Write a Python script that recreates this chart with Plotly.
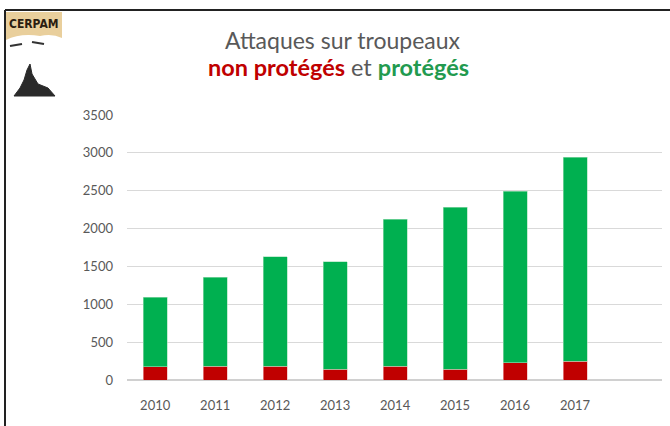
import plotly.graph_objects as go

years = [2010, 2011, 2012, 2013, 2014, 2015, 2016, 2017]
non_proteges = [172, 180, 180, 145, 180, 145, 230, 245]
proteges = [918, 1180, 1450, 1415, 1940, 2135, 2260, 2695]
y_ticks = [0, 500, 1000, 1500, 2000, 2500, 3000, 3500]

W, H = 670, 426
L, R, T, B = 127, 8, 115, 46
pw, ph = W - L - R, H - T - B

def px(x):
    return (x - L) / pw

def py(y):
    return (H - B - y) / ph

FONT = "Lato"
GRAY = "#595959"

fig = go.Figure()
fig.add_trace(go.Bar(x=years, y=non_proteges, name="non protégés",
                     marker=dict(color="#c00000", line=dict(color="#f0b0b0", width=0.6)),
                     width=0.4))
fig.add_trace(go.Bar(x=years, y=proteges, name="protégés",
                     marker=dict(color="#00b050", line=dict(color="#a0e0b8", width=0.6)),
                     width=0.4))

shapes = [
    # frame
    dict(type="line", xref="paper", yref="paper", x0=px(5), x1=px(672), y0=py(10), y1=py(10),
         line=dict(color="#222222", width=2)),
    dict(type="line", xref="paper", yref="paper", x0=px(5), x1=px(5), y0=py(10), y1=py(430),
         line=dict(color="#222222", width=2)),
    # logo
    dict(type="rect", xref="paper", yref="paper", x0=px(6), x1=px(62), y0=py(12), y1=py(40),
         fillcolor="#e9cf9c", line=dict(width=0)),
    dict(type="path", xref="paper", yref="paper",
         path=f"M {px(6)} {py(40)} Q {px(20)} {py(33)} {px(40)} {py(36)} Q {px(52)} {py(33)} {px(62)} {py(38)} L {px(62)} {py(42)} L {px(6)} {py(42)} Z",
         fillcolor="#ffffff", line=dict(width=0)),
    dict(type="path", xref="paper", yref="paper",
         path=f"M {px(14)} {py(96)} L {px(20)} {py(88)} L {px(24)} {py(80)} L {px(27)} {py(70)} L {px(30)} {py(64)} L {px(32)} {py(74)} L {px(38)} {py(84)} L {px(48)} {py(88)} L {px(55)} {py(96)} Z",
         fillcolor="#2a2a2a", line=dict(color="#2a2a2a", width=1)),
    dict(type="line", xref="paper", yref="paper", x0=px(10), x1=px(22), y0=py(46), y1=py(44),
         line=dict(color="#333333", width=2)),
    dict(type="line", xref="paper", yref="paper", x0=px(32), x1=px(44), y0=py(42), y1=py(44),
         line=dict(color="#333333", width=2)),
]

annotations = [
    dict(text="<b>CERPAM</b>", xref="paper", yref="paper", x=px(34), y=py(24), showarrow=False,
         font=dict(family="DejaVu Sans Condensed", size=12, color="#2b1d10"),
         xanchor="center", yanchor="middle"),
    dict(text="Attaques sur troupeaux", xref="paper", yref="paper", x=px(343), y=py(40),
         showarrow=False, xanchor="center", yanchor="middle",
         font=dict(family=FONT, size=23, color=GRAY)),
    dict(text="<b><span style='color:#c00000'>non protégés</span></b> et <b><span style='color:#229a4f'>protégés</span></b>",
         xref="paper", yref="paper", x=px(338), y=py(67), showarrow=False,
         xanchor="center", yanchor="middle",
         font=dict(family=FONT, size=23.5, color=GRAY)),
]

fig.update_layout(
    width=W, height=H,
    margin=dict(l=L, r=R, t=T, b=B),
    barmode="stack",
    showlegend=False,
    plot_bgcolor="white", paper_bgcolor="white",
    shapes=shapes, annotations=annotations,
    xaxis=dict(range=[2009.53, 2018.45], tickvals=years, ticktext=[str(y) for y in years],
               showgrid=False, zeroline=False, showline=False, ticks="",
               ticklabelstandoff=16,
               tickfont=dict(family=FONT, size=13, color=GRAY)),
    yaxis=dict(range=[0, 3500], tickvals=y_ticks, showgrid=True, gridcolor="#d9d9d9",
               gridwidth=1, zeroline=True, zerolinecolor="#d0d0d0", zerolinewidth=1.5,
               ticks="", ticklabelstandoff=13,
               tickfont=dict(family=FONT, size=13, color=GRAY)),
)

fig.write_html("out.html", config={"displayModeBar": False},
               post_script="document.body.style.margin='0';document.body.style.overflow='hidden';")
